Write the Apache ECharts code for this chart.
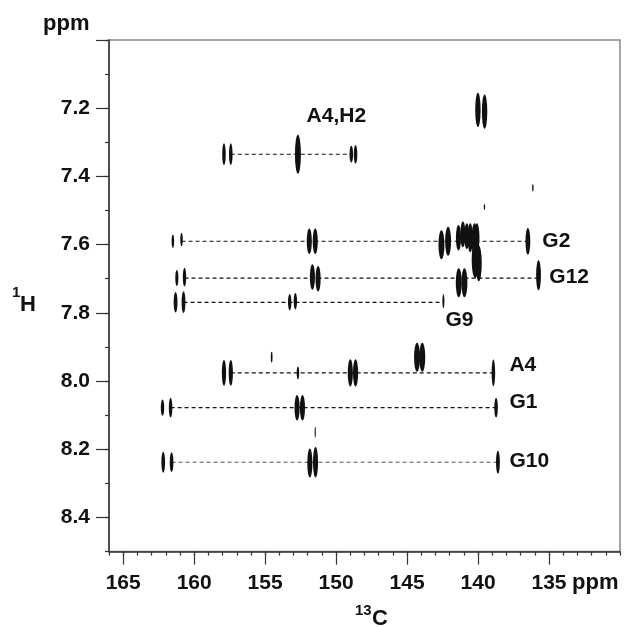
<!DOCTYPE html>
<html><head><meta charset="utf-8">
<script src="https://cdn.jsdelivr.net/npm/echarts@6/dist/echarts.min.js"></script>
<style>html,body{margin:0;padding:0;background:#fff}#c{width:624px;height:627px}</style>
</head><body><div id="c"></div>
<script>
// Axis ticks (ppm)
const xMajorTicks = [135, 140, 145, 150, 155, 160, 165];
const xTickLabels = [135, 140, 145, 150, 155, 160, 165];
const yMajorTicks = [7.0, 7.2, 7.4, 7.6, 7.8, 8.0, 8.2, 8.4];
const yTickLabels = [7.2, 7.4, 7.6, 7.8, 8.0, 8.2, 8.4];

// Cross peaks: [13C ppm, 1H ppm, 13C linewidth ppm, 1H linewidth ppm]
const peaksA4H2 = [
  [157.90, 7.335, 0.25, 0.065], [157.42, 7.335, 0.25, 0.065],
  [152.69, 7.335, 0.42, 0.115],
  [148.93, 7.335, 0.25, 0.050], [148.63, 7.335, 0.25, 0.055]
];
const peaksTop = [
  [140.01, 7.205, 0.38, 0.100], [139.54, 7.210, 0.38, 0.100],
  [136.14, 7.433, 0.10, 0.022], [139.55, 7.490, 0.10, 0.018]
];
const peaksG2 = [
  [161.50, 7.590, 0.18, 0.040], [160.89, 7.585, 0.18, 0.040],
  [151.89, 7.590, 0.36, 0.075], [151.47, 7.590, 0.36, 0.075],
  [142.58, 7.600, 0.42, 0.085], [142.11, 7.590, 0.42, 0.085],
  [141.38, 7.580, 0.36, 0.075], [141.07, 7.570, 0.36, 0.075],
  [140.79, 7.575, 0.36, 0.075], [140.55, 7.580, 0.36, 0.085],
  [140.25, 7.585, 0.42, 0.095], [140.08, 7.580, 0.36, 0.085],
  [140.20, 7.645, 0.50, 0.105], [139.95, 7.655, 0.42, 0.105],
  [136.49, 7.590, 0.34, 0.078]
];
const peaksG12 = [
  [161.22, 7.698, 0.22, 0.048], [160.68, 7.695, 0.24, 0.055],
  [151.67, 7.695, 0.36, 0.075], [151.27, 7.700, 0.36, 0.075],
  [141.36, 7.712, 0.42, 0.085], [140.96, 7.712, 0.42, 0.085],
  [135.74, 7.690, 0.34, 0.088]
];
const peaksG9 = [
  [161.31, 7.769, 0.27, 0.060], [160.75, 7.769, 0.27, 0.065],
  [153.27, 7.769, 0.24, 0.048], [152.87, 7.766, 0.24, 0.048],
  [142.44, 7.766, 0.14, 0.042]
];
const peaksA4 = [
  [157.90, 7.976, 0.30, 0.075], [157.42, 7.976, 0.30, 0.075],
  [152.69, 7.976, 0.18, 0.038],
  [149.00, 7.976, 0.36, 0.080], [148.63, 7.976, 0.36, 0.080],
  [138.92, 7.976, 0.25, 0.078],
  [154.54, 7.930, 0.12, 0.032],
  [144.30, 7.930, 0.42, 0.085], [143.93, 7.930, 0.42, 0.085]
];
const peaksG1 = [
  [162.23, 8.078, 0.24, 0.048], [161.66, 8.078, 0.25, 0.058],
  [152.75, 8.078, 0.36, 0.075], [152.37, 8.078, 0.36, 0.075],
  [138.73, 8.078, 0.25, 0.058]
];
const peaksG10 = [
  [162.18, 8.238, 0.26, 0.062], [161.59, 8.238, 0.26, 0.058],
  [151.85, 8.240, 0.36, 0.085], [151.45, 8.238, 0.36, 0.090],
  [151.47, 8.150, 0.08, 0.032],
  [138.60, 8.238, 0.27, 0.068]
];

// Correlation traces: [1H ppm, 13C from, 13C to]
const corrLines = [
  [7.335, 157.42, 148.93],
  [7.590, 160.89, 136.49],
  [7.698, 160.68, 135.74],
  [7.769, 160.75, 142.44],
  [7.976, 157.42, 138.92],
  [8.078, 161.66, 138.73],
  [8.238, 161.59, 138.60]
];

// Assignment labels: [text, 13C ppm (left edge), 1H ppm]
const assignLabels = [
  ['A4,H2', 152.08, 7.223],
  ['G2', 135.47, 7.590],
  ['G12', 134.98, 7.696],
  ['G9', 142.30, 7.822],
  ['A4', 137.79, 7.954],
  ['G1', 137.79, 8.062],
  ['G10', 137.79, 8.236]
];

const allPeaks = [].concat(peaksA4H2, peaksTop, peaksG2, peaksG12, peaksG9, peaksA4, peaksG1, peaksG10);

const FF = '"Liberation Sans", Arial, Helvetica, sans-serif';
const AX = '#333';
const FS = 21;

const chart = echarts.init(document.getElementById('c'), null, {renderer: 'canvas'});
const xBase = {type: 'value', min: 130, max: 166, inverse: true, gridIndex: 0, position: 'bottom', splitLine: {show: false}};
const yBase = {type: 'value', min: 7.0, max: 8.5, inverse: true, gridIndex: 0, position: 'left', splitLine: {show: false}};

chart.setOption({
  animation: false,
  grid: {left: 109, top: 40, right: 4, bottom: 75.4, show: true, borderColor: '#888', borderWidth: 1.5},
  xAxis: [
    Object.assign({}, xBase, {
      interval: 1,
      axisLine: {show: true, lineStyle: {color: AX, width: 1.5}},
      axisTick: {show: true, length: 4, lineStyle: {color: AX, width: 1.2}},
      axisLabel: {customValues: xTickLabels, margin: 21, color: '#111', fontSize: FS, fontWeight: 'bold', fontFamily: FF}
    }),
    Object.assign({}, xBase, {
      interval: 5,
      axisLine: {show: false},
      axisTick: {show: true, customValues: xMajorTicks, length: 13, lineStyle: {color: AX, width: 1.2}},
      axisLabel: {show: false}
    })
  ],
  yAxis: [
    Object.assign({}, yBase, {
      interval: 0.1,
      axisLine: {show: true, lineStyle: {color: AX, width: 1.5}},
      axisTick: {show: true, length: 4, lineStyle: {color: AX, width: 1.2}},
      axisLabel: {customValues: yTickLabels, margin: 19, color: '#111', fontSize: FS, fontWeight: 'bold', fontFamily: FF,
        formatter: v => Number(v).toFixed(1)}
    }),
    Object.assign({}, yBase, {
      interval: 0.2,
      axisLine: {show: false},
      axisTick: {show: true, customValues: yMajorTicks, length: 13, lineStyle: {color: AX, width: 1.2}},
      axisLabel: {show: false}
    })
  ],
  series: [
    {
      type: 'custom', xAxisIndex: 0, yAxisIndex: 0, data: corrLines, silent: true,
      renderItem: (p, api) => {
        const a = api.coord([api.value(1), api.value(0)]);
        const b = api.coord([api.value(2), api.value(0)]);
        return {type: 'line', shape: {x1: a[0], y1: a[1], x2: b[0], y2: b[1]},
          style: {stroke: p.dataIndex === 6 ? '#555' : '#111', lineWidth: 1.2, lineDash: [4, 3]}};
      }
    },
    {
      type: 'custom', xAxisIndex: 0, yAxisIndex: 0, data: allPeaks, silent: true,
      renderItem: (p, api) => {
        const c = api.coord([api.value(0), api.value(1)]);
        const s = api.size([api.value(2), api.value(3)]);
        return {type: 'path', shape: {pathData: 'M0,1A1,1,0,1,1,2,1A1,1,0,1,1,0,1Z',
          x: c[0] - s[0] / 2, y: c[1] - s[1] / 2, width: s[0], height: s[1], layout: 'cover'},
          style: {fill: '#111'}};
      }
    },
    {
      type: 'custom', xAxisIndex: 0, yAxisIndex: 0, data: assignLabels.map(d => [d[1], d[2]]), silent: true,
      renderItem: (p, api) => {
        const c = api.coord([api.value(0), api.value(1)]);
        return {type: 'text', style: {text: assignLabels[p.dataIndex][0], x: c[0], y: c[1],
          align: 'left', verticalAlign: 'middle', fill: '#111', fontSize: FS, fontWeight: 'bold', fontFamily: FF}};
      }
    }
  ],
  graphic: [
    {type: 'text', left: 43, top: 13, style: {text: 'ppm', fill: '#111', fontSize: 22, fontWeight: 'bold', fontFamily: FF}},
    {type: 'text', left: 572, top: 572, style: {text: 'ppm', fill: '#111', fontSize: 22, fontWeight: 'bold', fontFamily: FF}},
    {type: 'text', left: 355, top: 603, style: {text: '13', fill: '#111', fontSize: 15, fontWeight: 'bold', fontFamily: FF}},
    {type: 'text', left: 372, top: 608, style: {text: 'C', fill: '#111', fontSize: 22, fontWeight: 'bold', fontFamily: FF}},
    {type: 'text', left: 12, top: 285, style: {text: '1', fill: '#111', fontSize: 15, fontWeight: 'bold', fontFamily: FF}},
    {type: 'text', left: 20, top: 294, style: {text: 'H', fill: '#111', fontSize: 22, fontWeight: 'bold', fontFamily: FF}}
  ]
});
</script>
</body></html>
